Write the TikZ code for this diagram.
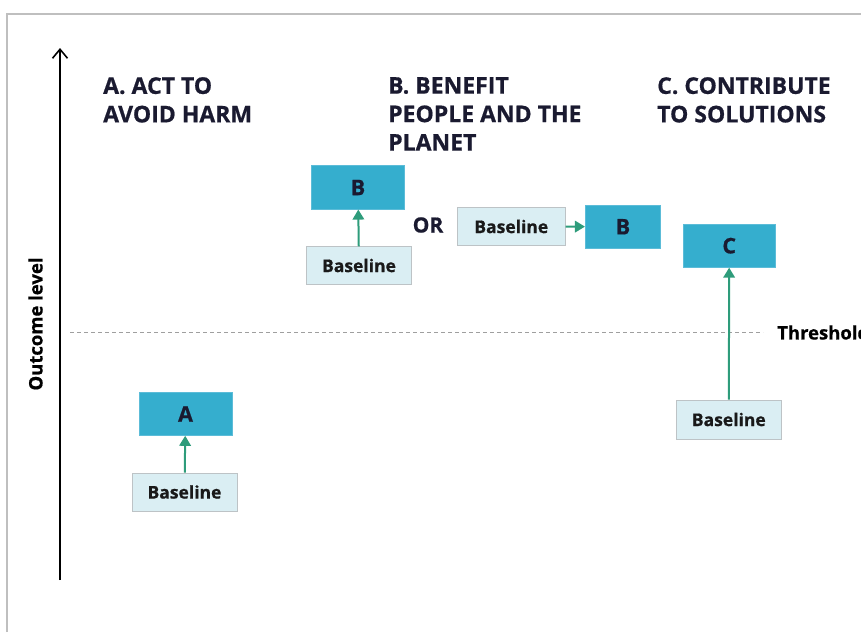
\documentclass[tikz,border=0pt]{standalone}
\usepackage{fontspec}
\setmainfont{Open Sans}[BoldFeatures={FakeBold=0.7}]
\usetikzlibrary{arrows.meta}
\definecolor{boxdark}{HTML}{35AECE}
\definecolor{boxdarkedge}{HTML}{5CBCD8}
\definecolor{boxlight}{HTML}{DAEEF3}
\definecolor{boxlightedge}{HTML}{BDC3C6}
\definecolor{arrowgreen}{HTML}{2E9C7B}
\definecolor{headtext}{HTML}{1A1A30}
\definecolor{frameline}{HTML}{BFBFBF}
\tikzset{
  heading/.style={anchor=north west, inner sep=0pt, align=left, text=headtext,
    font=\fontsize{23}{28.5}\selectfont\bfseries},
  outcome/.style={fill=boxdark, draw=boxdarkedge, line width=0.6pt, inner sep=0pt,
    text=headtext, font=\fontsize{21.5}{21.5}\selectfont\bfseries,
    minimum width=93pt, minimum height=43pt},
  baseline/.style={fill=boxlight, draw=boxlightedge, line width=0.8pt, inner sep=0pt,
    text=black!90, font=\fontsize{17.5}{17.5}\selectfont\bfseries,
    minimum width=105pt, minimum height=38pt},
  rise/.style={draw=arrowgreen, line width=2pt, -{Triangle[length=10pt,width=11.5pt]}},
  label/.style={inner sep=0pt, font=\fontsize{18.5}{18.5}\selectfont\bfseries}
}
\begin{document}
\begin{tikzpicture}[x=1pt,y=-1pt]
\useasboundingbox (0,0) rectangle (861,632);

% frame
\draw[frameline, line width=2pt] (7,632) -- (7,14) -- (861,14);

% vertical axis
\coordinate (axisbot) at (60,580);
\coordinate (axistop) at (60,48);
\draw[line width=1.8pt, -{Straight Barb[length=9pt,width=15pt,line width=1.6pt]}] (axisbot) -- (axistop);
\node[label, rotate=90, text=black] (ylabel) at (35.5,324) {Outcome level};

% threshold
\coordinate (thrl) at (70,332);
\coordinate (thrr) at (763,332);
\draw[gray!75, line width=1pt, dash pattern=on 4pt off 3pt] (thrl) -- (thrr);
\node[label, anchor=west, text=black] (thr) at (777,332.5) {Threshold};

% column headings
\node[heading] (ha) at (103,77) {A. ACT TO\\AVOID HARM};
\node[heading] (hb) at (388,77) {B. BENEFIT\\PEOPLE AND THE\\PLANET};
\node[heading] (hc) at (657,77) {C. CONTRIBUTE\\TO SOLUTIONS};

% A
\node[outcome] (a) at (185.5,414) {A};
\node[baseline] (abase) at (184.5,492) {Baseline};
\draw[rise] (abase) -- (a);

% B, vertical
\node[outcome, minimum height=43.5pt] (b1) at (358,187.5) {B};
\node[baseline, minimum height=37.5pt] (bbase1) at (359,265.5) {Baseline};
\draw[rise] (bbase1) -- (b1);

\node[inner sep=0pt, text=headtext, font=\fontsize{21}{21}\selectfont\bfseries] (or) at (428,225) {OR};

% B, horizontal
\node[baseline, minimum width=108pt, minimum height=37.5pt] (bbase2) at (511.3,226.5) {Baseline};
\node[outcome, minimum width=75.5pt, minimum height=43.3pt] (b2) at (623,226.7) {B};
\draw[rise] (bbase2) -- (b2);

% C
\node[outcome, minimum width=92pt, minimum height=43.3pt] (c) at (729.2,245.7) {C};
\node[baseline, minimum width=104.5pt, minimum height=39pt] (cbase) at (728.8,419.5) {Baseline};
\draw[rise] (cbase) -- (c);
\end{tikzpicture}
\end{document}
